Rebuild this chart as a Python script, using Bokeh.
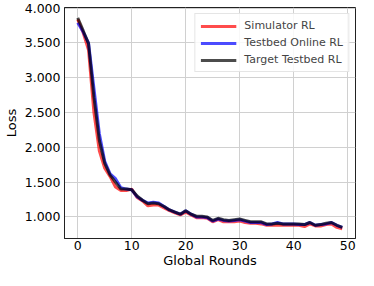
from bokeh.plotting import figure
from bokeh.models import Range1d, SingleIntervalTicker, NumeralTickFormatter, Legend
from bokeh.embed import file_html
from bokeh.resources import INLINE

rounds = list(range(50))
simulator_rl = [3.84, 3.65, 3.40, 2.50, 1.95, 1.70, 1.58, 1.43, 1.38, 1.38,
                1.40, 1.28, 1.23, 1.16, 1.17, 1.17, 1.13, 1.09, 1.06, 1.03,
                1.07, 1.03, 0.99, 0.99, 0.98, 0.93, 0.96, 0.93, 0.93, 0.93,
                0.94, 0.92, 0.91, 0.91, 0.90, 0.88, 0.88, 0.88, 0.88, 0.88,
                0.88, 0.88, 0.86, 0.90, 0.87, 0.87, 0.89, 0.90, 0.85, 0.83]
testbed_online_rl = [3.79, 3.66, 3.50, 2.85, 2.20, 1.80, 1.62, 1.55, 1.42, 1.40,
                     1.39, 1.29, 1.24, 1.20, 1.21, 1.20, 1.15, 1.10, 1.07, 1.04,
                     1.09, 1.04, 1.00, 1.00, 0.99, 0.94, 0.97, 0.95, 0.94, 0.95,
                     0.96, 0.94, 0.92, 0.92, 0.92, 0.89, 0.90, 0.92, 0.90, 0.90,
                     0.90, 0.89, 0.89, 0.92, 0.88, 0.89, 0.90, 0.92, 0.88, 0.85]
target_testbed_rl = [3.86, 3.68, 3.49, 2.72, 2.10, 1.77, 1.60, 1.50, 1.40, 1.40,
                     1.39, 1.30, 1.24, 1.19, 1.20, 1.19, 1.15, 1.10, 1.07, 1.04,
                     1.09, 1.04, 1.01, 1.01, 1.00, 0.95, 0.98, 0.96, 0.95, 0.96,
                     0.97, 0.95, 0.93, 0.93, 0.93, 0.90, 0.90, 0.91, 0.90, 0.90,
                     0.90, 0.90, 0.89, 0.92, 0.88, 0.89, 0.91, 0.92, 0.88, 0.85]
series_names = ["Simulator RL", "Testbed Online RL", "Target Testbed RL"]
series_colors = ["#ff0000", "#0000ff", "#000000"]

FONT = "DejaVu Sans"

p = figure(width=358, height=270, output_backend="svg", toolbar_location=None,
           x_range=Range1d(-2.45, 51.45), y_range=Range1d(0.69, 4.01),
           min_border_left=0, min_border_right=3, min_border_top=7, min_border_bottom=0)

p.outline_line_color = "#222222"
p.outline_line_width = 1

items = []
for name, ys, col in zip(series_names, [simulator_rl, testbed_online_rl, target_testbed_rl], series_colors):
    r = p.line(rounds, ys, line_color=col, line_width=3, line_alpha=0.7)
    items.append((name, [r]))

legend = Legend(items=items, location="top_right")
legend.label_text_font = FONT
legend.label_text_font_size = "11px"
legend.glyph_width = 36
legend.glyph_height = 12
legend.label_height = 12
legend.label_standoff = 8
legend.spacing = 4
legend.padding = 5
legend.margin = 6
legend.border_line_color = "#cccccc"
legend.border_line_width = 1
legend.background_fill_alpha = 0.85
p.add_layout(legend)

p.xaxis.ticker = SingleIntervalTicker(interval=10)
p.yaxis.ticker = SingleIntervalTicker(interval=0.5)
p.yaxis.formatter = NumeralTickFormatter(format="0.000")
p.xaxis.axis_label = "Global Rounds"
p.yaxis.axis_label = "Loss"

for ax in [p.xaxis, p.yaxis]:
    ax.major_label_text_font = FONT
    ax.major_label_text_font_size = "12.5px"
    ax.major_label_text_color = "#000000"
    ax.axis_label_text_font = FONT
    ax.axis_label_text_font_size = "13px"
    ax.axis_label_text_font_style = "normal"
    ax.axis_label_text_color = "#000000"
    ax.major_tick_out = 0
    ax.major_tick_in = 0
    ax.minor_tick_out = 0
    ax.minor_tick_in = 0
    ax.axis_line_color = "#222222"

p.yaxis.major_label_standoff = 4
p.yaxis.axis_label_standoff = 3
p.xaxis.major_label_standoff = 2
p.xaxis.axis_label_standoff = 0

p.grid.grid_line_color = "#d0d0d0"
p.grid.grid_line_width = 1

open("out.html", "w").write(file_html(p, INLINE))
